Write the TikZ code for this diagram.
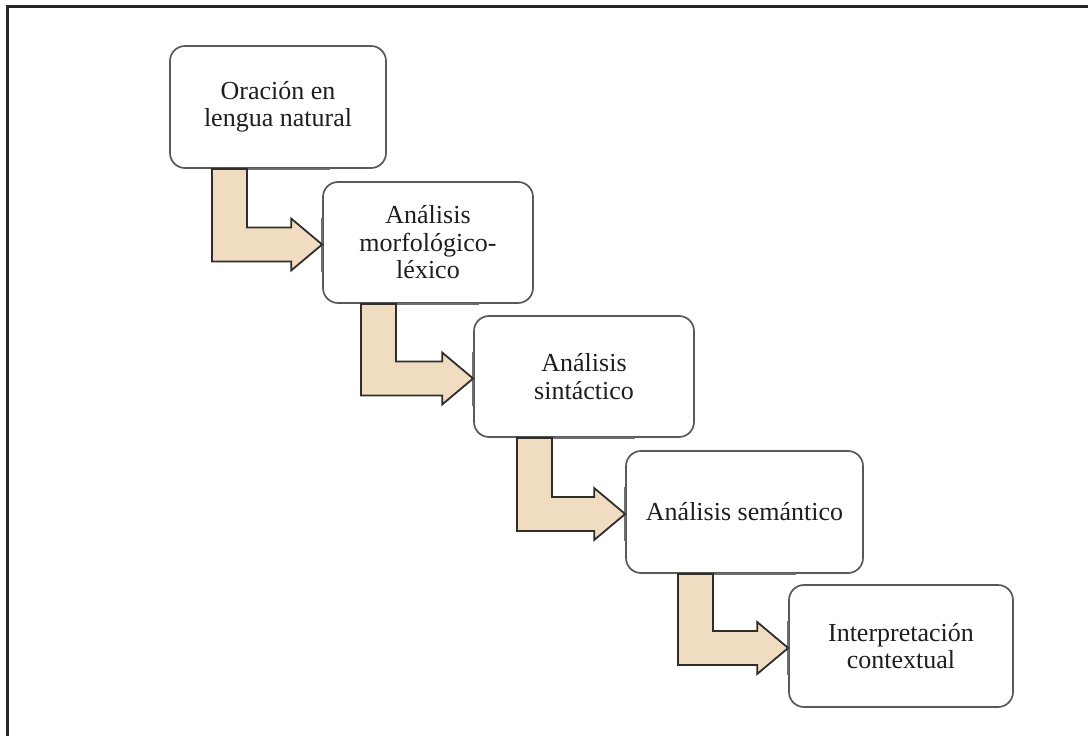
\documentclass[tikz,border=0pt]{standalone}
\usepackage{fontspec}
\setmainfont{Liberation Serif}
\usetikzlibrary{calc}
\definecolor{beige}{RGB}{240,220,192}
\definecolor{boxline}{RGB}{90,90,90}
\definecolor{arrline}{RGB}{50,45,40}
\definecolor{artgray}{RGB}{110,110,110}
\definecolor{txt}{RGB}{30,30,30}
\newcommand\bentarrow[3]{%
  \coordinate (xa) at (#3,0);
  \coordinate (s1) at (xa |- #1.south);
  \coordinate (s2) at ($(s1)+(35,0)$);
  \coordinate (tp) at ($(#2.west)+(0,2)$);
  \coordinate (tu) at ($(tp)+(0,-17)$);
  \coordinate (td) at ($(tp)+(0,17)$);
  \draw[artgray, line width=2.5pt] (s1) -- ++(118,0);
  \draw[artgray, line width=2pt] ($(tp)+(0,-27)$) -- ($(tp)+(0,27)$);
  \draw[barrow] (s1) -- (s2) -- (s2 |- tu) -- ($(tu)+(-31,0)$) -- ($(tp)+(-31,-26)$)
     -- (tp) -- ($(tp)+(-31,26)$) -- ($(td)+(-31,0)$) -- (s1 |- td) -- cycle;
}
\tikzset{
  stage/.style={draw=boxline, line width=1.7pt, rounded corners=15pt, fill=white,
    align=center, inner sep=0pt, text=txt, font=\fontsize{26}{27.5}\selectfont},
  barrow/.style={draw=arrline, line width=1.8pt, fill=beige, line join=miter},
}
\begin{document}
\begin{tikzpicture}[x=1pt,y=-1pt]
\useasboundingbox (0,0) rectangle (1088,736);
\fill[white] (0,0) rectangle (1088,736);
\draw[black!85, line width=2.6pt] (7.5,745) -- (7.5,6.5) -- (1095,6.5);
\node[stage, minimum width=216pt, minimum height=122pt] (b1) at (278,107) {Oración en\\lengua natural};
\node[stage, minimum width=210pt, minimum height=121pt] (b2) at (428,242.5) {Análisis\\morfológico-\\léxico};
\node[stage, minimum width=220pt, minimum height=121pt] (b3) at (584,376.5) {Análisis\\sintáctico};
\node[stage, minimum width=237pt, minimum height=122pt] (b4) at (744.5,512) {Análisis semántico};
\node[stage, minimum width=224pt, minimum height=122pt] (b5) at (901,646) {Interpretación\\contextual};
\bentarrow{b1}{b2}{212}
\bentarrow{b2}{b3}{361}
\bentarrow{b3}{b4}{517}
\bentarrow{b4}{b5}{678}
\end{tikzpicture}
\end{document}
